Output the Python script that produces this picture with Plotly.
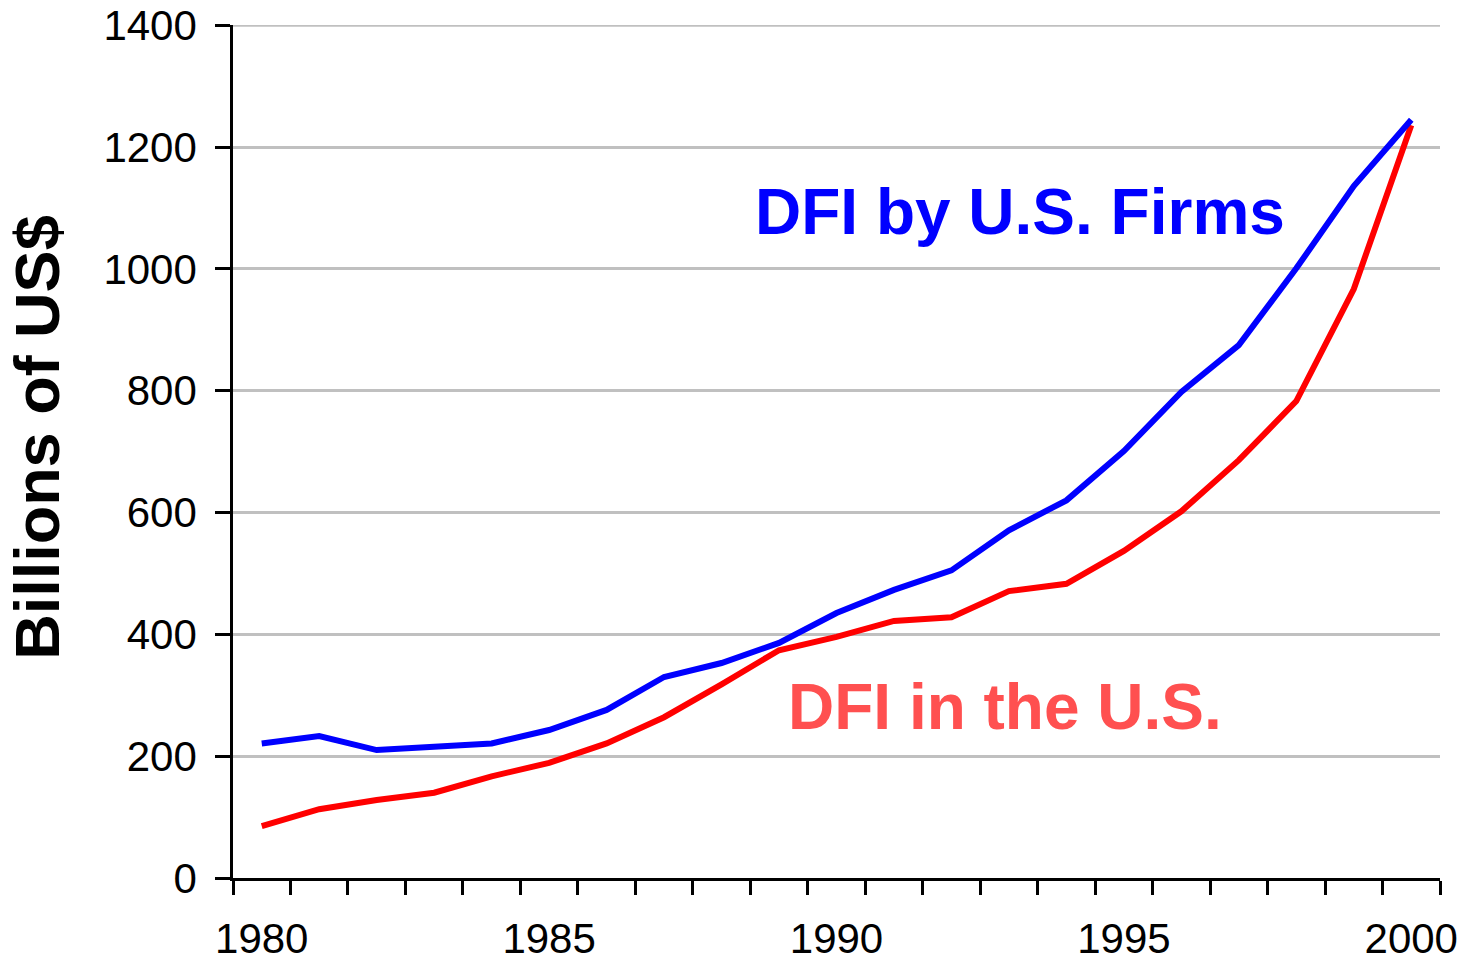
import plotly.graph_objects as go

years = list(range(1980, 2001))
dfi_by_us_firms = [221, 233, 210, 215, 221, 243, 276, 330, 353, 386, 435,
                   473, 505, 571, 620, 701, 798, 875, 1001, 1136, 1245]
dfi_in_us = [85, 113, 128, 140, 167, 189, 221, 264, 318, 374, 396,
             422, 428, 471, 483, 537, 602, 686, 783, 967, 1236]
x_labels = [1980, 1985, 1990, 1995, 2000]
y_ticks = [0, 200, 400, 600, 800, 1000, 1200, 1400]

FONT = "Liberation Sans, Arial, sans-serif"
GRID = "#c0c0c0"

fig = go.Figure()
fig.add_trace(go.Scatter(x=years, y=dfi_in_us, mode="lines",
                         line=dict(color="#ff0000", width=6), name="DFI in the U.S."))
fig.add_trace(go.Scatter(x=years, y=dfi_by_us_firms, mode="lines",
                         line=dict(color="#0000ff", width=6), name="DFI by U.S. Firms"))

# top gridline (plotly skips the grid line at the range edge)
fig.add_shape(type="line", xref="paper", yref="y", x0=0, x1=1,
              y0=y_ticks[-1], y1=y_ticks[-1], layer="below",
              line=dict(color=GRID, width=3))

fig.add_annotation(x=1993.19, y=1093, text="<b>DFI by U.S. Firms</b>", showarrow=False,
                   font=dict(family=FONT, size=64, color="#0000ff"))
fig.add_annotation(x=1992.93, y=281, text="<b>DFI in the U.S.</b>", showarrow=False,
                   font=dict(family=FONT, size=64, color="#ff5050"))
fig.add_annotation(xref="paper", yref="paper", x=-0.1625, y=0.517,
                   text="<b>Billions of US$</b>", textangle=-90, showarrow=False,
                   xanchor="center", yanchor="middle",
                   font=dict(family=FONT, size=63, color="black"))

fig.update_layout(
    width=1460, height=965,
    margin=dict(l=233, r=20, t=25, b=87, autoexpand=False),
    paper_bgcolor="white", plot_bgcolor="white",
    showlegend=False,
    font=dict(family=FONT, color="black"),
)
fig.update_xaxes(
    range=[years[0] - 0.5, years[-1] + 0.5], automargin=False,
    tickmode="array", tickvals=x_labels, ticktext=[str(v) for v in x_labels],
    ticks="", showgrid=False, zeroline=False,
    showline=True, linecolor="black", linewidth=2.5,
    tickfont=dict(size=42, family=FONT, color="black"),
    ticklabelstandoff=22,
    minor=dict(tickmode="array", tickvals=[y - 0.5 for y in years] + [years[-1] + 0.5],
               ticks="outside", ticklen=14, tickwidth=2.5, tickcolor="black", showgrid=False),
)
fig.update_yaxes(
    range=[0, 1400.5], tickmode="array", tickvals=y_ticks, automargin=False,
    ticks="outside", ticklen=15, tickwidth=2.5, tickcolor="black",
    showline=True, linecolor="black", linewidth=2.5,
    showgrid=True, gridcolor=GRID, gridwidth=3, zeroline=False,
    tickfont=dict(size=42, family=FONT, color="black"),
    ticklabelstandoff=10,
)

fig.write_html("out.html", config={"displayModeBar": False},
               post_script="document.body.style.margin='0';document.body.style.overflow='hidden';")
